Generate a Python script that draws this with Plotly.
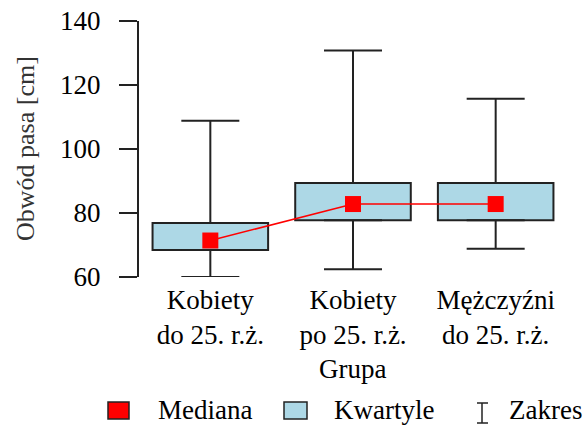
import plotly.graph_objects as go

# Waist circumference summary per group
groups = ["Kobiety<br>do 25. r.ż.", "Kobiety<br>po 25. r.ż.", "Mężczyźni<br>do 25. r.ż."]
minimum = [60.0, 62.4, 68.8]
q1 = [68.4, 77.7, 77.7]
median = [71.4, 82.8, 82.8]
q3 = [76.9, 89.4, 89.4]
maximum = [108.8, 130.8, 115.7]

y_ticks = [60, 80, 100, 120, 140]

FONT = "Liberation Serif"
FS = 27
INK = "#222222"
BOX_FILL = "#ADD8E6"
RED = "#FF0000"

W, H = 586, 425
ML, MR, MT, MB = 139, 19, 21, 148
PW, PH = W - ML - MR, H - MT - MB

x = list(range(len(groups)))


def px(xp):
    """Pixel column -> paper x."""
    return (xp - ML) / PW


def py(yp):
    """Pixel row -> paper y."""
    return (H - MB - yp) / PH


fig = go.Figure()

# Quartile boxes (Q1..Q3)
fig.add_trace(go.Bar(
    x=x, y=[b - a for a, b in zip(q1, q3)], base=q1, width=0.81,
    marker=dict(color=BOX_FILL, line=dict(color=INK, width=2)),
    showlegend=False, hoverinfo="skip", cliponaxis=False,
))

# Whiskers: Q3 -> max and Q1 -> min, capped
fig.add_trace(go.Scatter(
    x=x, y=q3, mode="markers", marker=dict(opacity=0),
    error_y=dict(type="data", symmetric=False,
                 array=[m - a for m, a in zip(maximum, q3)],
                 arrayminus=[0] * len(x), color=INK, thickness=2, width=29),
    showlegend=False, hoverinfo="skip", cliponaxis=False,
))
fig.add_trace(go.Scatter(
    x=x, y=q1, mode="markers", marker=dict(opacity=0),
    error_y=dict(type="data", symmetric=False,
                 array=[0] * len(x),
                 arrayminus=[a - m for a, m in zip(q1, minimum)],
                 color=INK, thickness=2, width=29),
    showlegend=False, hoverinfo="skip", cliponaxis=False,
))

# Medians joined by a line
fig.add_trace(go.Scatter(
    x=x, y=median, mode="lines+markers",
    line=dict(color=RED, width=1.5),
    marker=dict(symbol="square", size=16, color=RED, line=dict(width=0)),
    showlegend=False, hoverinfo="skip", cliponaxis=False,
))

shapes = []
annotations = []

# Axis titles
annotations.append(dict(
    text="Grupa", xref="paper", yref="paper", x=px(352), y=py(369),
    xanchor="center", yanchor="middle", showarrow=False,
    font=dict(family=FONT, size=FS, color="black"),
))
annotations.append(dict(
    text="Obwód pasa [cm]", xref="paper", yref="paper", x=px(25), y=py(149),
    xanchor="center", yanchor="middle", textangle=-90, showarrow=False,
    font=dict(family=FONT, size=26, color="#333333"),
))

# Legend row
legend_font = dict(family=FONT, size=FS, color="black")
for x0, x1, fill, label, tx in [
    (108, 129, RED, "Mediana", 156),
    (284, 307, BOX_FILL, "Kwartyle", 332),
]:
    shapes.append(dict(type="rect", xref="paper", yref="paper",
                       x0=px(x0), x1=px(x1), y0=py(419), y1=py(402),
                       fillcolor=fill, line=dict(color=INK, width=1.5)))
    annotations.append(dict(text=label, xref="paper", yref="paper",
                            x=px(tx), y=py(410), xanchor="left", yanchor="middle",
                            showarrow=False, font=legend_font))

# Range symbol (capped bar)
for x0, y0, x1, y1 in [(482, 403, 482, 423), (477, 403, 488, 403), (477, 423, 488, 423)]:
    shapes.append(dict(type="line", xref="paper", yref="paper",
                       x0=px(x0), x1=px(x1), y0=py(y0), y1=py(y1),
                       line=dict(color=INK, width=1.5)))
annotations.append(dict(text="Zakres", xref="paper", yref="paper",
                        x=px(507), y=py(410), xanchor="left", yanchor="middle",
                        showarrow=False, font=legend_font))

fig.update_layout(
    width=W, height=H,
    margin=dict(l=ML, r=MR, t=MT, b=MB, autoexpand=False),
    paper_bgcolor="white", plot_bgcolor="white",
    font=dict(family=FONT, size=FS, color="black"),
    shapes=shapes, annotations=annotations,
    showlegend=False,
    xaxis=dict(
        range=[-0.5, 2.5], tickmode="array", tickvals=x, ticktext=groups,
        showline=False, showgrid=False, zeroline=False, ticks="",
        automargin=False,
        ticklabelstandoff=4, tickfont=dict(family=FONT, size=FS, color="black"),
    ),
    yaxis=dict(
        range=[60, 140], tickmode="array", tickvals=y_ticks,
        showline=True, linecolor=INK, linewidth=2,
        ticks="outside", ticklen=18, tickwidth=2, tickcolor=INK,
        showgrid=False, zeroline=False, ticklabelstandoff=13,
        automargin=False,
        tickfont=dict(family=FONT, size=FS, color="black"),
    ),
)

fig.write_html("out.html")
